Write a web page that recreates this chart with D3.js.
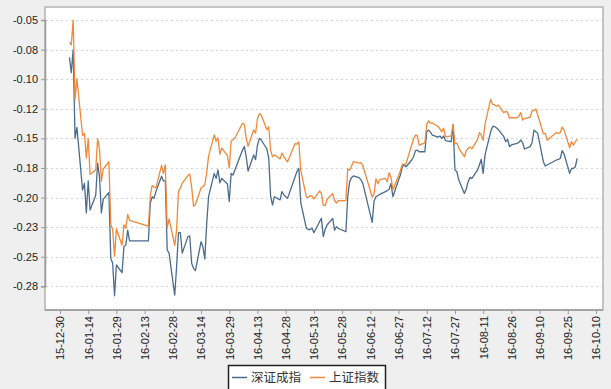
<!DOCTYPE html>
<html><head><meta charset="utf-8">
<script src="https://cdn.jsdelivr.net/npm/d3@7"></script>
<style>
html,body{margin:0;padding:0;background:#efefef;}
svg{display:block;}
</style></head>
<body>
<svg id="chart" width="611" height="389"></svg>
<script>
const dates = [
"2016-01-04","2016-01-05","2016-01-06","2016-01-07","2016-01-08","2016-01-11","2016-01-12","2016-01-13","2016-01-14","2016-01-15","2016-01-18","2016-01-19","2016-01-20","2016-01-21","2016-01-22","2016-01-25","2016-01-26","2016-01-27","2016-01-28","2016-01-29",
"2016-02-01","2016-02-02","2016-02-03","2016-02-04","2016-02-05","2016-02-15","2016-02-16","2016-02-17","2016-02-18","2016-02-19","2016-02-22","2016-02-23","2016-02-24","2016-02-25","2016-02-26","2016-02-29",
"2016-03-01","2016-03-02","2016-03-03","2016-03-04","2016-03-07","2016-03-08","2016-03-09","2016-03-10","2016-03-11","2016-03-14","2016-03-15","2016-03-16","2016-03-17","2016-03-18","2016-03-21","2016-03-22","2016-03-23","2016-03-24","2016-03-25","2016-03-28","2016-03-29","2016-03-30","2016-03-31",
"2016-04-01","2016-04-05","2016-04-06","2016-04-07","2016-04-08","2016-04-11","2016-04-12","2016-04-13","2016-04-14","2016-04-15","2016-04-18","2016-04-19","2016-04-20","2016-04-21","2016-04-22","2016-04-25","2016-04-26","2016-04-27","2016-04-28","2016-04-29",
"2016-05-03","2016-05-04","2016-05-05","2016-05-06","2016-05-09","2016-05-10","2016-05-11","2016-05-12","2016-05-13","2016-05-16","2016-05-17","2016-05-18","2016-05-19","2016-05-20","2016-05-23","2016-05-24","2016-05-25","2016-05-26","2016-05-27","2016-05-30","2016-05-31",
"2016-06-01","2016-06-02","2016-06-03","2016-06-06","2016-06-07","2016-06-08","2016-06-13","2016-06-14","2016-06-15","2016-06-16","2016-06-17","2016-06-20","2016-06-21","2016-06-22","2016-06-23","2016-06-24","2016-06-27","2016-06-28","2016-06-29","2016-06-30",
"2016-07-01","2016-07-04","2016-07-05","2016-07-06","2016-07-07","2016-07-08","2016-07-11","2016-07-12","2016-07-13","2016-07-14","2016-07-15","2016-07-18","2016-07-19","2016-07-20","2016-07-21","2016-07-22","2016-07-25","2016-07-26","2016-07-27","2016-07-28","2016-07-29",
"2016-08-01","2016-08-02","2016-08-03","2016-08-04","2016-08-05","2016-08-08","2016-08-09","2016-08-10","2016-08-11","2016-08-12","2016-08-15","2016-08-16","2016-08-17","2016-08-18","2016-08-19","2016-08-22","2016-08-23","2016-08-24","2016-08-25","2016-08-26","2016-08-29","2016-08-30","2016-08-31",
"2016-09-01","2016-09-02","2016-09-05","2016-09-06","2016-09-07","2016-09-08","2016-09-09","2016-09-12","2016-09-13","2016-09-14","2016-09-19","2016-09-20","2016-09-21","2016-09-22","2016-09-23","2016-09-26","2016-09-27","2016-09-28","2016-09-29","2016-09-30"
];

// 深证成指
const szValues = [
-0.0815,-0.0945,-0.075,-0.150,-0.1407,-0.1937,-0.188,-0.213,-0.186,-0.2106,-0.198,-0.171,-0.1825,-0.213,-0.2015,-0.1956,-0.2514,-0.2555,-0.283,-0.257,
-0.2635,-0.2415,-0.240,-0.2275,-0.2367,-0.2367,-0.2049,-0.1993,-0.2007,-0.195,-0.182,-0.186,-0.186,-0.2443,-0.247,-0.2824,
-0.2585,-0.2297,-0.2297,-0.247,-0.233,-0.2325,-0.2556,-0.2598,-0.2618,-0.2373,-0.2415,-0.252,-0.222,-0.1993,-0.1796,-0.1838,-0.1767,-0.1875,-0.1838,-0.1886,-0.2035,-0.1796,-0.181,
-0.1767,-0.160,-0.157,-0.1655,-0.1776,-0.164,-0.168,-0.1556,-0.150,-0.1514,-0.159,-0.1668,-0.1993,-0.2063,-0.1993,-0.202,-0.195,-0.1975,-0.1993,-0.2007,
-0.1824,-0.178,-0.1753,-0.204,-0.226,-0.227,-0.227,-0.226,-0.2297,-0.2204,-0.2176,-0.2331,-0.2268,-0.2232,-0.2176,-0.2275,-0.2247,-0.226,-0.2268,-0.2289,-0.1993,
-0.1866,-0.1832,-0.1818,-0.1832,-0.185,-0.188,-0.221,-0.203,-0.1993,-0.1985,-0.1973,-0.195,-0.1942,-0.193,-0.188,-0.1993,-0.1852,-0.181,-0.174,-0.1725,
-0.174,-0.1683,-0.1655,-0.1604,-0.160,-0.1613,-0.1613,-0.1444,-0.143,-0.145,-0.1472,-0.149,-0.148,-0.150,-0.148,-0.152,-0.1528,-0.1387,-0.1768,-0.178,-0.185,
-0.1965,-0.193,-0.1866,-0.183,-0.1838,-0.1768,-0.1725,-0.1677,-0.1796,-0.164,-0.1444,-0.140,-0.140,-0.141,-0.1424,-0.1486,-0.1528,-0.151,-0.157,-0.1556,-0.1542,-0.1534,-0.1514,
-0.1537,-0.159,-0.157,-0.1537,-0.143,-0.1444,-0.1458,-0.1697,-0.1734,-0.1725,-0.1683,-0.1677,-0.167,-0.1604,-0.163,-0.1796,-0.1754,-0.1754,-0.174,-0.167
];

// 上证指数
const shValues = [
-0.0686,-0.0711,-0.0501,-0.1170,-0.0997,-0.1476,-0.1459,-0.1666,-0.1502,-0.1803,-0.1767,-0.1502,-0.1589,-0.1861,-0.1759,-0.1697,-0.2230,-0.2271,-0.2496,-0.2265,
-0.2403,-0.2231,-0.2260,-0.2142,-0.2192,-0.2241,-0.1985,-0.1898,-0.1911,-0.1919,-0.1729,-0.1797,-0.1724,-0.2255,-0.2181,-0.2405,
-0.2277,-0.1948,-0.1920,-0.1879,-0.1814,-0.1802,-0.1912,-0.2075,-0.2059,-0.1920,-0.1907,-0.1890,-0.1792,-0.1650,-0.1470,-0.1525,-0.1495,-0.1634,-0.1582,-0.1643,-0.1750,-0.1522,-0.1512,
-0.1497,-0.1373,-0.1381,-0.1500,-0.1566,-0.1428,-0.1457,-0.1335,-0.1291,-0.1303,-0.1428,-0.1402,-0.1601,-0.1657,-0.1639,-0.1674,-0.1623,-0.1654,-0.1677,-0.1698,
-0.1544,-0.1548,-0.1530,-0.1769,-0.1997,-0.1998,-0.1984,-0.1987,-0.2012,-0.1945,-0.1965,-0.2067,-0.2069,-0.2017,-0.1965,-0.2027,-0.2046,-0.2025,-0.2029,-0.2025,-0.1759,
-0.1768,-0.1735,-0.1697,-0.1710,-0.1704,-0.1729,-0.1995,-0.1969,-0.1842,-0.1883,-0.1848,-0.1838,-0.1867,-0.1790,-0.1829,-0.1935,-0.1818,-0.1771,-0.1717,-0.1722,
-0.1714,-0.1556,-0.1505,-0.1475,-0.1476,-0.1557,-0.1538,-0.1384,-0.1352,-0.1371,-0.1370,-0.1400,-0.1420,-0.1445,-0.1413,-0.1487,-0.1479,-0.1382,-0.1546,-0.1539,-0.1582,
-0.1655,-0.1605,-0.1584,-0.1573,-0.1589,-0.1511,-0.1451,-0.1470,-0.1516,-0.1380,-0.1170,-0.1213,-0.1215,-0.1229,-0.1218,-0.1284,-0.1270,-0.1281,-0.1330,-0.1325,-0.1326,-0.1312,-0.1282,
-0.1345,-0.1333,-0.1320,-0.1267,-0.1264,-0.1252,-0.1301,-0.1461,-0.1457,-0.1515,-0.1450,-0.1459,-0.1450,-0.1404,-0.1428,-0.1579,-0.1528,-0.1558,-0.1529,-0.1510
];

const seriesNames = ["深证成指","上证指数"];
const seriesColors = ["#4b6b8c","#f0893a"];

const yTickValues = [-0.05,-0.075,-0.1,-0.125,-0.15,-0.175,-0.2,-0.225,-0.25,-0.275];
const yTickLabels = ["-0.05","-0.08","-0.10","-0.12","-0.15","-0.18","-0.20","-0.23","-0.25","-0.28"];
const xTickLabels = ["15-12-30","16-01-14","16-01-29","16-02-13","16-02-28","16-03-14","16-03-29","16-04-13","16-04-28","16-05-13","16-05-28","16-06-12","16-06-27","16-07-12","16-07-27","16-08-11","16-08-26","16-09-10","16-09-25","16-10-10"];

const parse = d3.timeParse("%Y-%m-%d");
const parseTick = d3.timeParse("%y-%m-%d");
const dateObjs = dates.map(parse);
const xTicks = xTickLabels.map(parseTick);

const plot = {left:45, top:7, right:603, bottom:310};

const x = d3.scaleTime()
  .domain([parseTick("15-12-30"), parseTick("16-10-10")])
  .range([60, 596]);
const y = d3.scaleLinear()
  .domain([-0.05, -0.275])
  .range([20, 286.3]);

const svg = d3.select("#chart");

svg.append("rect").attr("x",0).attr("y",0).attr("width",611).attr("height",389).attr("fill","#efefef");
svg.append("rect")
  .attr("x",plot.left).attr("y",plot.top)
  .attr("width",plot.right-plot.left).attr("height",plot.bottom-plot.top)
  .attr("fill","#ffffff").attr("stroke","#b4b4b4").attr("stroke-width",1.5);

// gridlines
svg.append("g").selectAll("line").data(yTickValues).join("line")
  .attr("x1",plot.left+1).attr("x2",plot.right-1)
  .attr("y1",d=>Math.round(y(d))+0.5).attr("y2",d=>Math.round(y(d))+0.5)
  .attr("stroke","#d4d4d4").attr("stroke-width",1).attr("stroke-dasharray","2,3");

// Y axis
const yAxis = d3.axisLeft(y).tickValues(yTickValues)
  .tickFormat((d,i)=>yTickLabels[i]).tickSize(4).tickPadding(3);
const gy = svg.append("g").attr("transform",`translate(${plot.left},0)`).call(yAxis);
gy.select(".domain").attr("stroke","#9a9a9a").attr("stroke-width",1.5);
gy.selectAll(".tick line").attr("stroke","#9a9a9a");
gy.selectAll(".tick text").attr("fill","#222").style("font-family","'Liberation Sans', Arial, sans-serif").style("font-size","11px");

// X axis
const xAxis = d3.axisBottom(x).tickValues(xTicks)
  .tickFormat((d,i)=>xTickLabels[i]).tickSize(4).tickPadding(3);
const gx = svg.append("g").attr("transform",`translate(0,${plot.bottom})`).call(xAxis);
gx.select(".domain").attr("stroke","#9a9a9a").attr("stroke-width",1.5)
  .attr("d",`M${plot.left},0H${plot.right}`);
gx.selectAll(".tick line").attr("stroke","#9a9a9a");
gx.selectAll(".tick text")
  .attr("fill","#222")
  .style("font-family","'Liberation Sans', Arial, sans-serif").style("font-size","11px")
  .attr("transform","rotate(-90)")
  .attr("text-anchor","end")
  .attr("x",-6).attr("y",0).attr("dy","0.35em");

// lines
const series = [szValues, shValues];
const line = d3.line().x((d,i)=>x(dateObjs[i])).y(d=>y(d));
series.forEach((vals,k)=>{
  svg.append("path").datum(vals)
    .attr("d",line)
    .attr("fill","none")
    .attr("stroke",seriesColors[k])
    .attr("stroke-width",1.3)
    .attr("stroke-linejoin","round");
});

// legend
const lg = svg.append("g");
lg.append("rect").attr("x",228.5).attr("y",365.5).attr("width",157).attr("height",25)
  .attr("fill","#ffffff").attr("stroke","#222").attr("stroke-width",1.5);
const legendX = [232, 310];
seriesNames.forEach((n,k)=>{
  lg.append("line").attr("x1",legendX[k]).attr("x2",legendX[k]+15)
    .attr("y1",377.5).attr("y2",377.5).attr("stroke",seriesColors[k]).attr("stroke-width",1.5);
  lg.append("text").attr("x",legendX[k]+19).attr("y",382)
    .text(n).attr("fill","#333")
    .style("font-family","'Noto Sans CJK SC', sans-serif").style("font-size","12.5px");
});
</script>
</body></html>
